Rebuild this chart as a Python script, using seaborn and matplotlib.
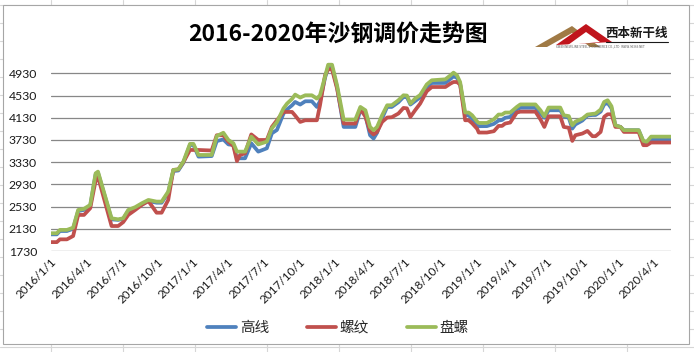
import pandas as pd
import seaborn as sns
import matplotlib.pyplot as plt
from matplotlib.lines import Line2D
from matplotlib.patches import Rectangle, Polygon

# 沙钢调价 (元/吨), 读图估值
dates = [
    "2016-01-01", "2016-01-16", "2016-01-24", "2016-02-11", "2016-02-27", "2016-03-11",
    "2016-03-26", "2016-04-11", "2016-04-25", "2016-05-01", "2016-06-05", "2016-06-22",
    "2016-07-05", "2016-07-18", "2016-08-05", "2016-08-22", "2016-09-08", "2016-09-29",
    "2016-10-12", "2016-10-29", "2016-11-11", "2016-11-24", "2016-12-07", "2016-12-24",
    "2017-01-02", "2017-01-15", "2017-02-18", "2017-03-03", "2017-03-20", "2017-04-02",
    "2017-04-15", "2017-04-24", "2017-05-02", "2017-05-15", "2017-05-31", "2017-06-18",
    "2017-07-10", "2017-07-23", "2017-08-05", "2017-08-22", "2017-08-31", "2017-09-13",
    "2017-09-21", "2017-10-04", "2017-10-17", "2017-11-03", "2017-11-16", "2017-11-24",
    "2017-12-07", "2017-12-15", "2017-12-25", "2018-01-07", "2018-01-24", "2018-02-23",
    "2018-03-08", "2018-03-21", "2018-04-02", "2018-04-11", "2018-04-20", "2018-05-03",
    "2018-05-16", "2018-05-28", "2018-06-14", "2018-06-27", "2018-07-06", "2018-07-15",
    "2018-07-27", "2018-08-09", "2018-08-26", "2018-09-08", "2018-10-13", "2018-10-26",
    "2018-11-03", "2018-11-12", "2018-11-20", "2018-12-03", "2018-12-12", "2018-12-21",
    "2019-01-03", "2019-01-07", "2019-01-28", "2019-02-15", "2019-02-27", "2019-03-08",
    "2019-03-16", "2019-03-29", "2019-04-15", "2019-04-24", "2019-06-02", "2019-06-15",
    "2019-06-25", "2019-07-06", "2019-08-05", "2019-08-14", "2019-08-27", "2019-09-05",
    "2019-09-13", "2019-10-01", "2019-10-14", "2019-10-27", "2019-11-04", "2019-11-17",
    "2019-11-26", "2019-12-05", "2019-12-15", "2019-12-25", "2020-01-07", "2020-01-16",
    "2020-02-23", "2020-03-06", "2020-03-15", "2020-03-26", "2020-05-15",
]

gaoxian = [
    2030, 2030, 2090, 2090, 2130, 2450, 2470, 2540, 3110, 3140, 2300, 2290,
    2310, 2450, 2500, 2570, 2630, 2600, 2600, 2780, 3170, 3180, 3320, 3640,
    3640, 3430, 3440, 3710, 3740, 3650, 3640, 3400, 3400, 3400, 3670, 3520,
    3580, 3850, 3910, 4206, 4280, 4355, 4415, 4368, 4427, 4427, 4325, 4427,
    4850, 5040, 5040, 4680, 3965, 3965, 4265, 4175, 3815, 3756, 3860, 4120,
    4325, 4325, 4410, 4505, 4500, 4368, 4430, 4500, 4680, 4757, 4757, 4830,
    4876, 4850, 4740, 4175, 4175, 4110, 3978, 3978, 3980, 4020, 4080, 4090,
    4130, 4145, 4283, 4310, 4310, 4210, 4130, 4265, 4265, 4160, 4130, 3935,
    4010, 4080, 4170, 4180, 4180, 4240, 4370, 4397, 4300, 3995, 3965, 3906,
    3906, 3700, 3690, 3745, 3745,
]

luowen = [
    1890, 1890, 1940, 1940, 2000, 2380, 2380, 2500, 3000, 3070, 2180, 2180,
    2250, 2380, 2470, 2560, 2630, 2420, 2420, 2650, 3190, 3200, 3330, 3550,
    3550, 3550, 3540, 3815, 3815, 3700, 3620, 3350, 3460, 3490, 3830, 3730,
    3730, 3965, 4085, 4235, 4235, 4235, 4170, 4055, 4085, 4085, 4085, 4355,
    4894, 5002, 5002, 4655, 4026, 4026, 4296, 4150, 3888, 3828, 3875, 4055,
    4134, 4140, 4206, 4307, 4300, 4145, 4265, 4385, 4607, 4684, 4684, 4745,
    4774, 4774, 4727, 4085, 4085, 4030, 3930, 3864, 3864, 3888, 3983, 3983,
    4026, 4044, 4224, 4240, 4240, 4100, 3965, 4157, 4157, 3965, 3950, 3713,
    3815, 3846, 3893, 3798, 3798, 3875, 4145, 4193, 4193, 3965, 3965, 3875,
    3875, 3636, 3636, 3684, 3684,
]

panluo = [
    2050, 2050, 2110, 2110, 2150, 2470, 2490, 2560, 3130, 3160, 2320, 2300,
    2320, 2470, 2520, 2590, 2650, 2620, 2620, 2800, 3190, 3200, 3340, 3660,
    3660, 3460, 3460, 3800, 3860, 3730, 3670, 3520, 3520, 3520, 3790, 3650,
    3700, 3940, 4050, 4300, 4385, 4470, 4547, 4494, 4535, 4535, 4475, 4535,
    4870, 5086, 5086, 4714, 4097, 4097, 4325, 4265, 3965, 3906, 3965, 4175,
    4355, 4355, 4445, 4535, 4530, 4385, 4475, 4540, 4730, 4805, 4823, 4894,
    4943, 4894, 4774, 4224, 4224, 4175, 4060, 4037, 4037, 4103, 4188, 4188,
    4224, 4224, 4325, 4370, 4370, 4265, 4157, 4314, 4314, 4175, 4160, 3995,
    4060, 4115, 4188, 4200, 4206, 4278, 4415, 4445, 4337, 3995, 3965, 3906,
    3906, 3713, 3700, 3790, 3790,
]

series_names = ["高线", "螺纹", "盘螺"]
series_colors = ["#4F81BD", "#C0504D", "#9BBB59"]

y_ticks = [1730, 2130, 2530, 2930, 3330, 3730, 4130, 4530, 4930]
x_tick_dates = [
    "2016-01-01", "2016-04-01", "2016-07-01", "2016-10-01", "2017-01-01", "2017-04-01",
    "2017-07-01", "2017-10-01", "2018-01-01", "2018-04-01", "2018-07-01", "2018-10-01",
    "2019-01-01", "2019-04-01", "2019-07-01", "2019-10-01", "2020-01-01", "2020-04-01",
]
x_tick_labels = [
    "2016/1/1", "2016/4/1", "2016/7/1", "2016/10/1", "2017/1/1", "2017/4/1",
    "2017/7/1", "2017/10/1", "2018/1/1", "2018/4/1", "2018/7/1", "2018/10/1",
    "2019/1/1", "2019/4/1", "2019/7/1", "2019/10/1", "2020/1/1", "2020/4/1",
]

d = pd.to_datetime(dates)
df = pd.concat([
    pd.DataFrame({"date": d, "price": gaoxian, "品种": "高线"}),
    pd.DataFrame({"date": d, "price": luowen, "品种": "螺纹"}),
    pd.DataFrame({"date": d, "price": panluo, "品种": "盘螺"}),
])

sns.set_theme(style="white")
plt.rcParams["font.family"] = ["Noto Sans CJK SC", "DejaVu Sans"]

W, H = 694, 352
fig = plt.figure(figsize=(W / 100, H / 100), dpi=100)
fig.patch.set_facecolor("white")

def fx(x):
    return x / W

def fy(y):
    return 1 - y / H

# spreadsheet cells behind the chart
for x in range(51 - 72, W + 72, 72):
    fig.add_artist(Line2D([fx(x), fx(x)], [0, 1], color="#d6d6d6", lw=0.8, zorder=0.2))
for y in range(5, H + 18, 18):
    fig.add_artist(Line2D([0, 1], [fy(y), fy(y)], color="#d6d6d6", lw=0.8, zorder=0.2))
fig.add_artist(Rectangle((fx(3), fy(344)), fx(689) - fx(3), fy(5) - fy(344),
                         facecolor="white", edgecolor="#a6a6a6", lw=0.8, zorder=0.5))

ax = fig.add_axes([fx(51), fy(251), fx(670.5) - fx(51), fy(56.7) - fy(251)])
ax.set_zorder(2)
ax.patch.set_alpha(0)

sns.lineplot(data=df, x="date", y="price", hue="品种", hue_order=series_names,
             palette=series_colors, linewidth=2.7, ax=ax, sort=False)

ax.set_ylim(1730, 5230)
ax.set_xlim(pd.Timestamp("2016-01-01"), pd.Timestamp("2020-05-15"))
ax.set_yticks(y_ticks)
ax.set_yticklabels([str(v) for v in y_ticks], fontfamily="Lato")
ax.set_xticks(pd.to_datetime(x_tick_dates))
ax.set_xticklabels(x_tick_labels, rotation=45, ha="right", rotation_mode="anchor",
                   fontfamily="Lato")
ax.tick_params(axis="y", length=0, pad=10, labelsize=8.8, labelcolor="#1a1a1a")
ax.tick_params(axis="x", length=0, pad=4, labelsize=8.5, labelcolor="#1a1a1a")
ax.grid(axis="y", color="#878787", lw=0.9)
ax.grid(axis="x", visible=False)
for s in ax.spines.values():
    s.set_visible(False)
ax.set_xlabel("")
ax.set_ylabel("")

handles, labels = ax.get_legend_handles_labels()
ax.legend_.remove()
fig.legend(handles, labels, loc="center", bbox_to_anchor=(fx(338), fy(328)), ncol=3,
           frameon=False, fontsize=10.5, handlelength=2.0, handletextpad=0.25,
           columnspacing=2.6)

fig.text(fx(338), fy(35), "2016-2020年沙钢调价走势图", ha="center", va="center",
         fontsize=16.5, fontweight="bold", color="black")

# logo
fig.add_artist(Polygon([(fx(535), fy(47)), (fx(572), fy(26)), (fx(600), fy(47))],
                       closed=True, facecolor="#a07a45", edgecolor="none", zorder=3))
fig.add_artist(Polygon([(fx(547), fy(47)), (fx(572), fy(33)), (fx(590), fy(47))],
                       closed=True, facecolor="white", edgecolor="none", zorder=3))
fig.add_artist(Polygon([(fx(556), fy(45)), (fx(586), fy(24)), (fx(612), fy(42))],
                       closed=True, facecolor="#c0141c", edgecolor="none", zorder=3))
fig.add_artist(Polygon([(fx(568), fy(45)), (fx(586), fy(32)), (fx(600), fy(42))],
                       closed=True, facecolor="white", edgecolor="none", zorder=3))
fig.text(fx(637), fy(33), "西本新干线", ha="center", va="center", fontsize=9,
         fontweight="bold", color="#1a1a1a", zorder=4)
fig.add_artist(Line2D([fx(606), fx(668)], [fy(42), fy(42)], color="#1a1a1a", lw=0.8, zorder=4))
fig.text(fx(600), fy(46), "XIBEN NEW LINE STEEL E-COMMERCE CO.,LTD   WWW.96369.NET",
         ha="center", va="center", fontsize=2.2, color="#555555", zorder=4)

fig.savefig("out.png", dpi=100)
